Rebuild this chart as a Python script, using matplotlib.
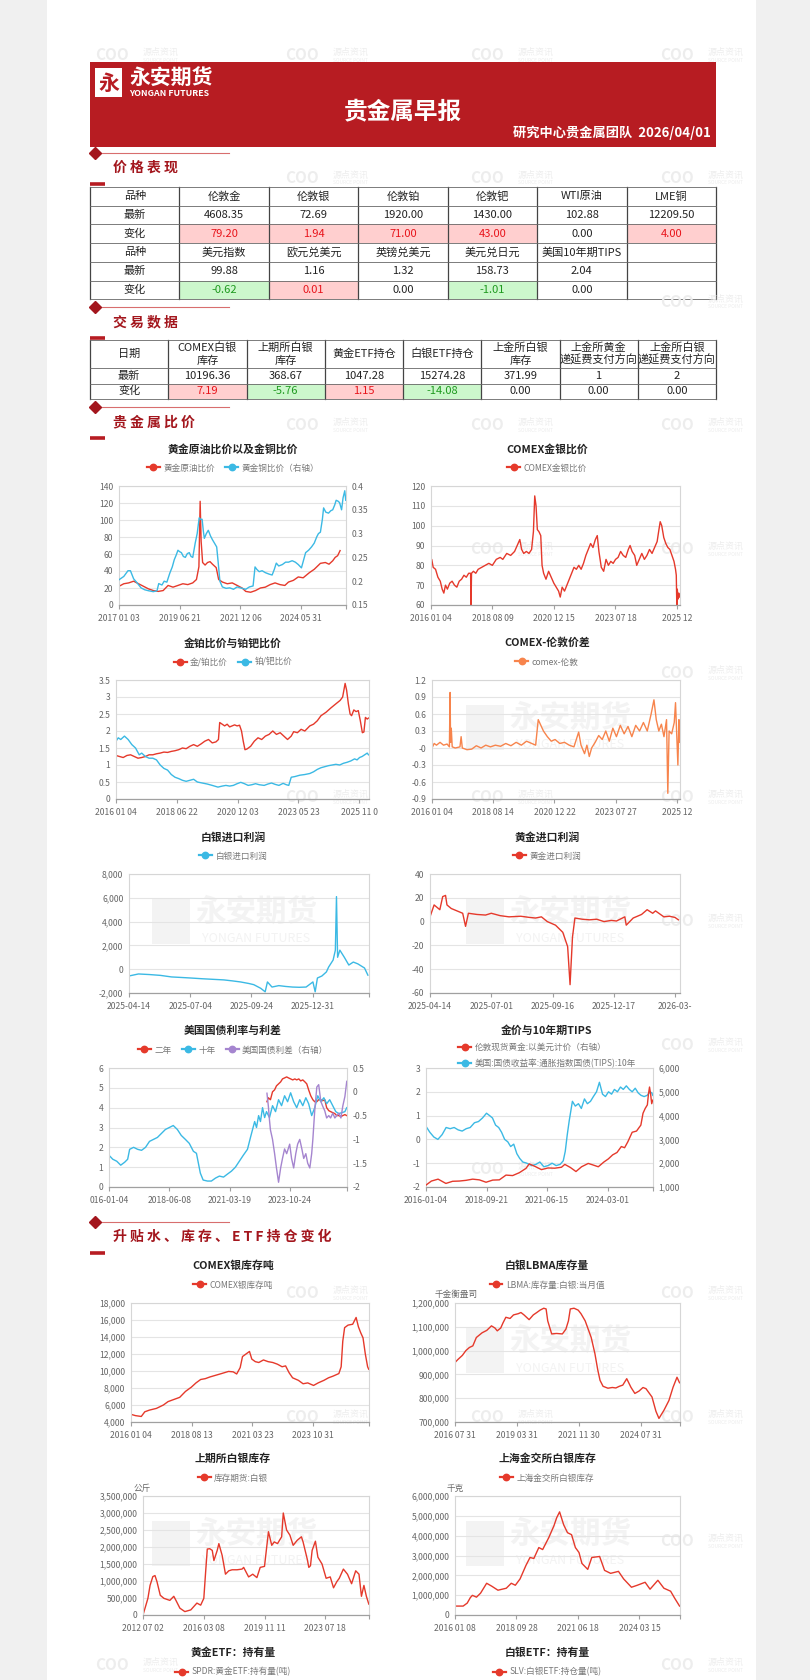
import numpy as np
import matplotlib
matplotlib.use("Agg")
import matplotlib.pyplot as plt
from matplotlib.lines import Line2D
from matplotlib.patches import Rectangle
from matplotlib.text import Text

plt.rcParams['font.family'] = ['Noto Sans CJK SC', 'DejaVu Sans']
plt.rcParams['axes.unicode_minus'] = False

W, H = 810, 1680
RED = '#e5392b'
CYAN = '#3bb9e4'
PURPLE = '#a585cf'
ORANGE = '#f7844c'
BANNER = '#b71c22'
DARKRED = '#a3161d'

# ---------------- 表格数据 ----------------
report_title = "贵金属早报"
report_sub = "研究中心贵金属团队  2026/04/01"

price_names_1 = ["伦敦金", "伦敦银", "伦敦铂", "伦敦钯", "WTI原油", "LME铜"]
price_last_1 = [4608.35, 72.69, 1920.00, 1430.00, 102.88, 12209.50]
price_chg_1 = [79.20, 1.94, 71.00, 43.00, 0.00, 4.00]
price_names_2 = ["美元指数", "欧元兑美元", "英镑兑美元", "美元兑日元", "美国10年期TIPS"]
price_last_2 = [99.88, 1.16, 1.32, 158.73, 2.04]
price_chg_2 = [-0.62, 0.01, 0.00, -1.01, 0.00]

trade_cols = ["日期", "COMEX白银\n库存", "上期所白银\n库存", "黄金ETF持仓", "白银ETF持仓",
              "上金所白银\n库存", "上金所黄金\n递延费支付方向", "上金所白银\n递延费支付方向"]
trade_last = [10196.36, 368.67, 1047.28, 15274.28, 371.99, 1, 2]
trade_chg = [7.19, -5.76, 1.15, -14.08, 0.00, 0.00, 0.00]

# ---------------- 图表数据 (年份, 数值) ----------------
gold_oil = [(2017.0, 22), (2017.2, 25), (2017.4, 26), (2017.6, 28), (2017.8, 25), (2018.0, 22),
            (2018.2, 19), (2018.4, 17), (2018.6, 16), (2018.8, 17), (2019.0, 23), (2019.2, 21),
            (2019.4, 23), (2019.6, 25), (2019.8, 24), (2020.0, 26), (2020.15, 30), (2020.25, 45),
            (2020.3, 122), (2020.34, 75), (2020.4, 50), (2020.5, 47), (2020.6, 50), (2020.7, 51),
            (2020.8, 48), (2020.95, 44), (2021.05, 30), (2021.2, 27), (2021.4, 25), (2021.6, 26),
            (2021.8, 23), (2022.0, 20), (2022.15, 16), (2022.35, 15), (2022.55, 17), (2022.75, 20),
            (2022.95, 21), (2023.15, 24), (2023.35, 26), (2023.55, 24), (2023.75, 23), (2023.9, 27),
            (2024.1, 29), (2024.3, 33), (2024.5, 32), (2024.75, 38), (2024.95, 42), (2025.2, 49),
            (2025.4, 50), (2025.55, 48), (2025.7, 52), (2025.8, 56), (2025.9, 58), (2026.0, 64)]
gold_copper = [(2017.0, 0.203), (2017.2, 0.21), (2017.37, 0.222), (2017.47, 0.222), (2017.6, 0.205),
               (2017.75, 0.196), (2017.9, 0.186), (2018.05, 0.182), (2018.2, 0.18), (2018.4, 0.178),
               (2018.55, 0.18), (2018.62, 0.195), (2018.75, 0.192), (2018.84, 0.2), (2018.95, 0.198),
               (2019.07, 0.217), (2019.17, 0.23), (2019.25, 0.245), (2019.33, 0.255), (2019.4, 0.265),
               (2019.47, 0.262), (2019.54, 0.26), (2019.62, 0.252), (2019.7, 0.25), (2019.78, 0.258),
               (2019.86, 0.26), (2019.93, 0.252), (2020.0, 0.25), (2020.1, 0.28), (2020.18, 0.3),
               (2020.26, 0.333), (2020.32, 0.33), (2020.38, 0.33), (2020.43, 0.305), (2020.47, 0.29),
               (2020.55, 0.3), (2020.63, 0.307), (2020.72, 0.295), (2020.8, 0.287), (2020.88, 0.28),
               (2020.97, 0.272), (2021.03, 0.24), (2021.1, 0.2), (2021.2, 0.188), (2021.35, 0.185),
               (2021.5, 0.186), (2021.65, 0.183), (2021.8, 0.188), (2022.0, 0.185), (2022.15, 0.183),
               (2022.3, 0.188), (2022.45, 0.19), (2022.53, 0.23), (2022.6, 0.225), (2022.7, 0.22),
               (2022.82, 0.222), (2022.95, 0.218), (2023.1, 0.215), (2023.23, 0.213), (2023.32, 0.225),
               (2023.4, 0.238), (2023.5, 0.232), (2023.65, 0.235), (2023.78, 0.24), (2023.9, 0.24),
               (2024.05, 0.243), (2024.18, 0.24), (2024.3, 0.235), (2024.43, 0.228), (2024.52, 0.245),
               (2024.6, 0.26), (2024.72, 0.265), (2024.84, 0.272), (2024.95, 0.28), (2025.05, 0.293),
               (2025.12, 0.3), (2025.2, 0.303), (2025.28, 0.33), (2025.33, 0.354), (2025.42, 0.345),
               (2025.53, 0.343), (2025.62, 0.348), (2025.7, 0.35), (2025.78, 0.36), (2025.84, 0.37),
               (2025.92, 0.368), (2025.98, 0.365), (2026.06, 0.35), (2026.12, 0.375), (2026.19, 0.39),
               (2026.23, 0.37)]
comex_gsr = [(2016.0, 79), (2016.04, 83), (2016.1, 79), (2016.2, 78), (2016.3, 74), (2016.4, 72),
             (2016.48, 68), (2016.55, 66), (2016.62, 70), (2016.7, 68), (2016.8, 71), (2016.9, 72),
             (2017.0, 70), (2017.1, 69), (2017.2, 72), (2017.3, 73), (2017.4, 75), (2017.5, 74),
             (2017.6, 76), (2017.68, 76), (2017.7, 60), (2017.72, 76), (2017.8, 77), (2017.9, 76),
             (2018.0, 78), (2018.15, 79), (2018.3, 80), (2018.45, 81), (2018.6, 80), (2018.75, 83),
             (2018.9, 84), (2019.0, 83), (2019.15, 86), (2019.3, 85), (2019.45, 87), (2019.55, 90),
             (2019.65, 93), (2019.72, 88), (2019.8, 86), (2019.9, 87), (2020.0, 86), (2020.1, 88),
             (2020.17, 97), (2020.22, 115), (2020.27, 110), (2020.32, 98), (2020.38, 97), (2020.45, 95),
             (2020.5, 80), (2020.56, 76), (2020.65, 73), (2020.75, 77), (2020.85, 74), (2020.95, 71),
             (2021.05, 69), (2021.15, 67), (2021.22, 64), (2021.3, 69), (2021.4, 67), (2021.5, 70),
             (2021.6, 73), (2021.7, 76), (2021.8, 79), (2021.9, 78), (2022.0, 80), (2022.1, 78),
             (2022.2, 81), (2022.3, 85), (2022.4, 88), (2022.5, 91), (2022.6, 89), (2022.7, 93),
             (2022.78, 95), (2022.85, 87), (2022.95, 79), (2023.05, 77), (2023.15, 83), (2023.25, 80),
             (2023.35, 82), (2023.45, 81), (2023.55, 83), (2023.65, 84), (2023.75, 87), (2023.85, 85),
             (2023.95, 84), (2024.05, 88), (2024.12, 90), (2024.2, 87), (2024.3, 85), (2024.38, 80),
             (2024.48, 83), (2024.58, 86), (2024.68, 83), (2024.78, 85), (2024.88, 88), (2024.98, 86),
             (2025.08, 89), (2025.18, 92), (2025.25, 98), (2025.3, 102), (2025.36, 100), (2025.44, 94),
             (2025.52, 91), (2025.6, 89), (2025.68, 88), (2025.76, 85), (2025.84, 82), (2025.9, 78),
             (2025.93, 75), (2025.95, 60), (2025.97, 68), (2026.0, 63), (2026.03, 66), (2026.06, 64)]
gold_plat = [(2016.0, 1.28), (2016.15, 1.25), (2016.3, 1.22), (2016.45, 1.28), (2016.6, 1.3),
             (2016.75, 1.25), (2016.9, 1.2), (2017.05, 1.22), (2017.2, 1.25), (2017.35, 1.3),
             (2017.5, 1.3), (2017.65, 1.33), (2017.8, 1.35), (2017.95, 1.38), (2018.1, 1.37),
             (2018.25, 1.4), (2018.4, 1.42), (2018.55, 1.45), (2018.7, 1.5), (2018.85, 1.48),
             (2019.0, 1.55), (2019.15, 1.6), (2019.3, 1.55), (2019.45, 1.62), (2019.6, 1.7),
             (2019.75, 1.75), (2019.9, 1.65), (2020.05, 1.68), (2020.15, 1.75), (2020.2, 2.25),
             (2020.3, 2.2), (2020.4, 2.15), (2020.5, 2.2), (2020.6, 2.12), (2020.7, 2.15),
             (2020.8, 2.18), (2020.9, 2.15), (2021.0, 2.17), (2021.08, 2.0), (2021.15, 1.7),
             (2021.22, 1.45), (2021.3, 1.47), (2021.45, 1.55), (2021.6, 1.7), (2021.75, 1.8),
             (2021.9, 1.75), (2022.05, 1.85), (2022.2, 1.9), (2022.35, 2.0), (2022.5, 1.9),
             (2022.65, 1.95), (2022.8, 1.85), (2022.95, 1.75), (2023.1, 1.85), (2023.2, 1.98),
             (2023.35, 1.95), (2023.5, 2.05), (2023.65, 2.0), (2023.85, 2.15), (2024.0, 2.2),
             (2024.15, 2.3), (2024.3, 2.45), (2024.5, 2.55), (2024.7, 2.68), (2024.9, 2.8),
             (2025.07, 2.9), (2025.17, 3.0), (2025.27, 3.4), (2025.33, 3.2), (2025.4, 2.8),
             (2025.47, 2.5), (2025.53, 2.45), (2025.62, 2.62), (2025.71, 2.57), (2025.8, 2.6),
             (2025.88, 2.3), (2025.96, 1.95), (2026.02, 1.97), (2026.08, 2.4), (2026.15, 2.35),
             (2026.2, 2.38)]
plat_pall = [(2016.0, 1.7), (2016.1, 1.8), (2016.2, 1.75), (2016.35, 1.85), (2016.5, 1.75),
             (2016.65, 1.6), (2016.8, 1.5), (2016.95, 1.3), (2017.05, 1.35), (2017.2, 1.25),
             (2017.35, 1.2), (2017.5, 1.2), (2017.65, 1.15), (2017.8, 1.0), (2017.95, 0.9),
             (2018.1, 0.85), (2018.25, 0.72), (2018.4, 0.64), (2018.55, 0.6), (2018.7, 0.55),
             (2018.85, 0.52), (2019.0, 0.55), (2019.15, 0.58), (2019.3, 0.5), (2019.5, 0.47),
             (2019.7, 0.44), (2019.9, 0.4), (2020.13, 0.35), (2020.3, 0.38), (2020.45, 0.4),
             (2020.6, 0.38), (2020.75, 0.4), (2020.9, 0.45), (2021.05, 0.49), (2021.2, 0.45),
             (2021.35, 0.4), (2021.5, 0.42), (2021.65, 0.45), (2021.8, 0.42), (2022.0, 0.4),
             (2022.15, 0.44), (2022.3, 0.47), (2022.45, 0.43), (2022.6, 0.4), (2022.77, 0.46),
             (2022.9, 0.42), (2023.0, 0.4), (2023.1, 0.64), (2023.25, 0.66), (2023.45, 0.7),
             (2023.65, 0.72), (2023.85, 0.75), (2024.0, 0.8), (2024.15, 0.87), (2024.3, 0.92),
             (2024.45, 0.95), (2024.6, 0.98), (2024.75, 1.0), (2024.9, 1.02), (2025.05, 1.0),
             (2025.2, 1.05), (2025.35, 1.08), (2025.5, 1.12), (2025.65, 1.18), (2025.75, 1.15),
             (2025.85, 1.22), (2025.95, 1.25), (2026.05, 1.3), (2026.15, 1.35), (2026.2, 1.3)]
comex_ldn = [(2016.0, 0.0), (2016.1, 0.08), (2016.2, 0.05), (2016.35, 0.1), (2016.5, 0.05),
             (2016.65, 0.07), (2016.75, 0.02), (2016.78, 0.98), (2016.8, 0.1), (2016.83, 0.35),
             (2016.87, 0.02), (2017.0, 0.0), (2017.2, 0.02), (2017.25, 0.2), (2017.3, 0.0),
             (2017.5, -0.03), (2017.7, -0.02), (2017.9, 0.04), (2018.1, 0.0), (2018.3, 0.05),
             (2018.5, 0.02), (2018.7, 0.05), (2018.9, 0.03), (2019.1, 0.08), (2019.3, 0.04),
             (2019.5, 0.1), (2019.7, 0.05), (2019.9, 0.12), (2020.1, 0.08), (2020.25, 0.05),
             (2020.35, 0.5), (2020.45, 0.4), (2020.55, 0.3), (2020.7, 0.2), (2020.85, 0.12),
             (2021.0, 0.15), (2021.2, 0.08), (2021.4, 0.1), (2021.6, 0.05), (2021.8, 0.02),
             (2022.0, 0.28), (2022.1, 0.05), (2022.25, -0.1), (2022.35, 0.05), (2022.45, -0.15),
             (2022.55, 0.0), (2022.7, 0.1), (2022.85, 0.22), (2023.0, 0.15), (2023.15, 0.3),
             (2023.3, 0.12), (2023.45, 0.35), (2023.6, 0.2), (2023.75, 0.4), (2023.9, 0.25),
             (2024.05, 0.38), (2024.2, 0.2), (2024.35, 0.4), (2024.5, 0.3), (2024.65, 0.45),
             (2024.8, 0.3), (2024.95, 0.6), (2025.06, 0.85), (2025.15, 0.5), (2025.25, 0.3),
             (2025.35, 0.42), (2025.45, 0.2), (2025.55, 0.5), (2025.6, -0.8), (2025.65, 0.3),
             (2025.75, 0.25), (2025.85, 0.45), (2025.9, 0.8), (2025.95, 0.2), (2026.0, -0.3),
             (2026.05, 0.5), (2026.08, 0.1)]
silver_profit = [(2025.28, -570), (2025.32, -400), (2025.36, -450), (2025.4, -520), (2025.44, -650),
                 (2025.48, -700), (2025.51, -740), (2025.55, -800), (2025.59, -850), (2025.63, -900),
                 (2025.66, -980), (2025.69, -1070), (2025.72, -1200), (2025.74, -1300), (2025.77, -1600),
                 (2025.79, -1900), (2025.8, -1070), (2025.82, -1500), (2025.85, -1380), (2025.88, -1450),
                 (2025.91, -1500), (2025.94, -1520), (2025.97, -1500), (2026.0, -1070), (2026.01, -1900),
                 (2026.02, -740), (2026.04, -570), (2026.06, -230), (2026.07, 180), (2026.09, 770),
                 (2026.1, 1600), (2026.105, 6100), (2026.11, 1000), (2026.12, 1600), (2026.14, 1000),
                 (2026.16, 350), (2026.18, 600), (2026.2, 450), (2026.23, 100), (2026.245, -500)]
gold_profit = [(2025.28, 4), (2025.3, 14), (2025.32, 10), (2025.33, 21), (2025.34, 22), (2025.345, 14),
               (2025.36, 11), (2025.38, 9), (2025.4, 7), (2025.41, -4), (2025.42, 7), (2025.45, 6),
               (2025.48, 5.5), (2025.5, 7), (2025.53, 5), (2025.56, 4), (2025.6, 4.5), (2025.63, 3.5),
               (2025.65, 3), (2025.67, 4), (2025.69, 0), (2025.72, -3), (2025.75, -9), (2025.77, -21),
               (2025.78, -53), (2025.79, -13), (2025.8, 3), (2025.83, 2), (2025.86, 1.5), (2025.89, 2),
               (2025.92, 0), (2025.95, 1), (2025.97, 0.5), (2026.0, 4), (2026.005, -3), (2026.03, 3),
               (2026.06, 6), (2026.08, 10), (2026.1, 7), (2026.11, 9), (2026.14, 4), (2026.16, 4.5),
               (2026.18, 3.5), (2026.2, 1.5)]
us_2y = [(2022.83, 4.3), (2022.89, 4.5), (2022.98, 4.4), (2023.07, 4.8), (2023.16, 4.9), (2023.24, 5.1),
         (2023.33, 5.2), (2023.42, 5.3), (2023.5, 5.45), (2023.59, 5.5), (2023.68, 5.55), (2023.76, 5.5),
         (2023.85, 5.45), (2023.94, 5.4), (2024.03, 5.45), (2024.11, 5.4), (2024.2, 5.45), (2024.28, 5.35),
         (2024.37, 5.4), (2024.46, 5.3), (2024.54, 5.2), (2024.62, 4.9), (2024.71, 4.6), (2024.8, 4.4),
         (2024.88, 4.3), (2024.97, 4.3), (2025.05, 4.4), (2025.14, 4.4), (2025.22, 4.35), (2025.31, 4.4),
         (2025.39, 4.0), (2025.48, 3.85), (2025.56, 3.8), (2025.65, 3.75), (2025.74, 3.7), (2025.82, 3.6),
         (2025.91, 3.6), (2026.0, 3.55), (2026.08, 3.6), (2026.17, 3.65), (2026.25, 3.6)]
us_10y = [(2016.0, 1.6), (2016.16, 1.4), (2016.32, 1.3), (2016.48, 1.1), (2016.64, 1.25), (2016.76, 1.4),
          (2016.84, 1.9), (2017.0, 2.0), (2017.16, 1.9), (2017.32, 1.85), (2017.48, 2.0), (2017.64, 2.3),
          (2017.8, 2.4), (2017.96, 2.5), (2018.12, 2.7), (2018.28, 2.9), (2018.44, 3.0), (2018.62, 3.1),
          (2018.81, 2.9), (2018.99, 2.6), (2019.18, 2.4), (2019.36, 2.2), (2019.55, 1.8), (2019.69, 1.7),
          (2019.78, 1.2), (2019.87, 0.7), (2020.0, 0.35), (2020.2, 0.3), (2020.38, 0.3), (2020.57, 0.45),
          (2020.75, 0.55), (2020.94, 0.5), (2021.12, 0.65), (2021.3, 0.8), (2021.47, 1.0), (2021.64, 1.3),
          (2021.81, 1.6), (2021.99, 1.9), (2022.12, 2.5), (2022.21, 2.9), (2022.3, 3.3), (2022.38, 3.0),
          (2022.47, 3.6), (2022.55, 3.3), (2022.64, 4.0), (2022.73, 3.5), (2022.81, 3.8), (2022.94, 3.5),
          (2023.07, 4.1), (2023.2, 3.8), (2023.33, 4.4), (2023.46, 4.1), (2023.59, 4.6), (2023.72, 4.3),
          (2023.85, 4.75), (2023.98, 4.3), (2024.11, 4.0), (2024.24, 4.4), (2024.37, 4.1), (2024.5, 4.5),
          (2024.62, 4.2), (2024.75, 3.6), (2024.88, 4.0), (2025.01, 4.6), (2025.14, 4.3), (2025.27, 4.5),
          (2025.39, 4.2), (2025.52, 4.4), (2025.65, 4.1), (2025.78, 3.8), (2025.91, 3.7), (2026.04, 3.75),
          (2026.17, 3.8), (2026.25, 4.0)]
us_spread = [(2022.83, -0.03), (2022.89, -0.3), (2022.94, -0.6), (2022.98, -0.8), (2023.07, -1.0),
             (2023.16, -1.3), (2023.24, -1.6), (2023.33, -1.9), (2023.42, -1.6), (2023.5, -1.4),
             (2023.59, -1.2), (2023.68, -1.3), (2023.81, -1.1), (2023.89, -1.4), (2023.98, -1.6),
             (2024.07, -1.3), (2024.15, -1.1), (2024.24, -1.0), (2024.33, -1.2), (2024.41, -1.4),
             (2024.5, -1.3), (2024.58, -1.5), (2024.67, -1.6), (2024.75, -1.3), (2024.8, -1.0),
             (2024.88, -0.4), (2024.97, 0.1), (2025.05, 0.15), (2025.14, -0.2), (2025.22, -0.3),
             (2025.31, -0.4), (2025.39, -0.55), (2025.48, -0.5), (2025.56, -0.55), (2025.65, -0.45),
             (2025.74, -0.55), (2025.82, -0.5), (2025.91, -0.45), (2026.0, -0.55), (2026.08, -0.3),
             (2026.17, -0.1), (2026.25, 0.22)]
gold_spot = [(2016.0, 1080), (2016.25, 1250), (2016.55, 1330), (2016.9, 1150), (2017.2, 1240),
             (2017.5, 1250), (2017.8, 1280), (2018.1, 1330), (2018.4, 1300), (2018.7, 1200),
             (2019.0, 1290), (2019.3, 1300), (2019.6, 1500), (2019.9, 1480), (2020.2, 1600),
             (2020.5, 1780), (2020.65, 1970), (2020.9, 1870), (2021.2, 1730), (2021.5, 1800),
             (2021.8, 1790), (2022.1, 1830), (2022.25, 1950), (2022.5, 1820), (2022.75, 1650),
             (2023.0, 1850), (2023.3, 1990), (2023.5, 1930), (2023.75, 1850), (2024.0, 2050),
             (2024.2, 2180), (2024.4, 2350), (2024.6, 2450), (2024.8, 2700), (2024.95, 2650),
             (2025.1, 2900), (2025.3, 3300), (2025.5, 3350), (2025.7, 3600), (2025.8, 4100),
             (2025.9, 4300), (2026.0, 4450), (2026.05, 4900), (2026.1, 5200), (2026.15, 4900),
             (2026.2, 4500), (2026.25, 4650)]
tips_10y = [(2016.0, 0.55), (2016.18, 0.3), (2016.36, 0.1), (2016.54, 0.0), (2016.73, 0.2), (2016.91, 0.5),
            (2017.09, 0.45), (2017.27, 0.5), (2017.45, 0.4), (2017.63, 0.35), (2017.81, 0.45), (2017.99, 0.5),
            (2018.18, 0.7), (2018.36, 0.75), (2018.54, 0.9), (2018.72, 1.1), (2018.86, 1.0), (2018.99, 0.9),
            (2019.13, 0.6), (2019.27, 0.5), (2019.4, 0.3), (2019.54, 0.0), (2019.68, -0.1), (2019.81, -0.3),
            (2019.95, -0.2), (2020.09, -0.6), (2020.22, -0.8), (2020.36, -0.95), (2020.54, -1.0),
            (2020.76, -1.1), (2020.95, -1.05), (2021.13, -0.95), (2021.31, -1.15), (2021.5, -1.1),
            (2021.68, -1.0), (2021.86, -1.1), (2022.04, -1.05), (2022.18, -0.9), (2022.27, -0.5),
            (2022.36, 0.2), (2022.45, 0.8), (2022.59, 1.6), (2022.72, 1.4), (2022.86, 1.5), (2022.99, 1.3),
            (2023.13, 1.7), (2023.26, 1.5), (2023.4, 1.6), (2023.53, 1.8), (2023.67, 2.0), (2023.8, 2.4),
            (2023.94, 1.9), (2024.07, 1.8), (2024.21, 2.0), (2024.35, 1.9), (2024.48, 2.1), (2024.62, 2.0),
            (2024.76, 2.2), (2024.89, 2.1), (2025.03, 2.25), (2025.17, 2.1), (2025.3, 2.0), (2025.44, 2.15),
            (2025.58, 1.95), (2025.71, 1.85), (2025.85, 1.8), (2025.99, 1.85), (2026.12, 2.0),
            (2026.21, 1.95), (2026.25, 1.85)]
comex_ag_stock = [(2016.0, 4900), (2016.2, 4750), (2016.45, 4650), (2016.6, 5200), (2016.8, 5400),
                  (2017.1, 5600), (2017.4, 6000), (2017.6, 6400), (2017.8, 6600), (2018.1, 6900),
                  (2018.35, 7600), (2018.6, 8100), (2018.8, 8600), (2019.0, 9000), (2019.2, 9100),
                  (2019.4, 9300), (2019.65, 9500), (2019.9, 9700), (2020.2, 9950), (2020.4, 9900),
                  (2020.55, 9650), (2020.7, 10400), (2020.8, 11700), (2020.95, 12000), (2021.1, 12300),
                  (2021.2, 11400), (2021.35, 11100), (2021.5, 11000), (2021.7, 11300), (2021.9, 11100),
                  (2022.1, 11000), (2022.3, 10800), (2022.5, 10500), (2022.65, 10600), (2022.8, 9800),
                  (2022.95, 9200), (2023.2, 8900), (2023.4, 8500), (2023.6, 8600), (2023.85, 8300),
                  (2024.05, 8600), (2024.3, 8900), (2024.5, 9200), (2024.7, 9400), (2024.95, 9700),
                  (2025.05, 10500), (2025.12, 13500), (2025.2, 15100), (2025.35, 15400), (2025.55, 15500),
                  (2025.7, 16300), (2025.8, 15200), (2025.9, 14500), (2026.0, 13900), (2026.1, 12000),
                  (2026.2, 10500), (2026.25, 10200)]
lbma_ag = [(2016.58, 950000), (2016.7, 962000), (2016.9, 980000), (2017.05, 1000000), (2017.2, 1013000),
           (2017.35, 1020000), (2017.5, 1055000), (2017.75, 1075000), (2017.95, 1085000), (2018.15, 1104000),
           (2018.3, 1095000), (2018.4, 1083000), (2018.55, 1095000), (2018.65, 1117000), (2018.77, 1140000),
           (2018.95, 1135000), (2019.1, 1150000), (2019.3, 1155000), (2019.42, 1160000), (2019.55, 1150000),
           (2019.77, 1130000), (2019.95, 1150000), (2020.1, 1160000), (2020.24, 1170000), (2020.4, 1178000),
           (2020.5, 1175000), (2020.57, 1125000), (2020.74, 1070000), (2020.95, 1072000), (2021.2, 1070000),
           (2021.35, 1090000), (2021.46, 1125000), (2021.54, 1175000), (2021.7, 1178000), (2021.88, 1170000),
           (2022.0, 1155000), (2022.18, 1125000), (2022.44, 1055000), (2022.6, 987000), (2022.72, 920000),
           (2022.82, 875000), (2022.95, 850000), (2023.16, 842000), (2023.35, 845000), (2023.5, 843000),
           (2023.65, 850000), (2023.8, 855000), (2023.97, 882000), (2024.15, 846000), (2024.32, 820000),
           (2024.5, 830000), (2024.67, 845000), (2024.8, 840000), (2025.06, 805000), (2025.23, 745000),
           (2025.36, 715000), (2025.58, 750000), (2025.79, 790000), (2025.97, 846000), (2026.14, 888000),
           (2026.25, 865000)]
shfe_ag = [(2012.5, 0), (2012.68, 290000), (2012.8, 490000), (2012.93, 870000), (2013.1, 1130000),
           (2013.23, 1160000), (2013.35, 980000), (2013.55, 580000), (2013.77, 490000), (2014.13, 430000),
           (2014.37, 550000), (2014.5, 430000), (2014.74, 200000), (2015.04, 100000), (2015.4, 150000),
           (2015.77, 350000), (2016.0, 290000), (2016.19, 490000), (2016.3, 1270000), (2016.4, 1940000),
           (2016.55, 1950000), (2016.7, 1900000), (2016.8, 1600000), (2017.0, 1900000), (2017.1, 2100000),
           (2017.3, 1750000), (2017.5, 1200000), (2017.7, 1300000), (2017.9, 1330000), (2018.2, 1330000),
           (2018.5, 1350000), (2018.6, 1400000), (2018.9, 1120000), (2019.15, 1200000), (2019.4, 1100000),
           (2019.6, 1400000), (2019.86, 1430000), (2020.1, 2450000), (2020.3, 2050000), (2020.45, 2150000),
           (2020.65, 2100000), (2020.9, 2300000), (2021.0, 3000000), (2021.2, 2500000), (2021.4, 2350000),
           (2021.6, 2050000), (2021.85, 2200000), (2022.1, 2300000), (2022.2, 2150000), (2022.45, 1650000),
           (2022.55, 1400000), (2022.65, 1450000), (2022.75, 1900000), (2022.95, 2170000), (2023.1, 1700000),
           (2023.35, 1500000), (2023.6, 1080000), (2023.85, 1120000), (2024.05, 800000), (2024.25, 980000),
           (2024.4, 1080000), (2024.65, 1350000), (2024.9, 1200000), (2025.15, 920000), (2025.4, 1300000),
           (2025.6, 1200000), (2025.75, 550000), (2025.9, 870000), (2026.05, 550000), (2026.2, 320000)]
sge_ag = [(2016.02, 450000), (2016.38, 450000), (2016.56, 600000), (2016.7, 880000), (2016.79, 990000),
          (2016.97, 900000), (2017.15, 1100000), (2017.42, 1600000), (2017.65, 1450000), (2017.92, 1250000),
          (2018.29, 1350000), (2018.51, 1600000), (2018.69, 1500000), (2018.9, 1820000), (2019.16, 2500000),
          (2019.34, 2900000), (2019.51, 2850000), (2019.73, 3400000), (2019.9, 3300000), (2020.17, 3900000),
          (2020.4, 4500000), (2020.52, 4900000), (2020.65, 5200000), (2020.83, 4550000), (2021.0, 4150000),
          (2021.18, 4050000), (2021.35, 3400000), (2021.51, 3150000), (2021.64, 2600000), (2021.9, 2300000),
          (2022.08, 2900000), (2022.43, 2950000), (2022.65, 2250000), (2022.92, 2100000), (2023.27, 2200000),
          (2023.5, 1820000), (2023.85, 1400000), (2024.11, 1500000), (2024.46, 1650000), (2024.68, 1300000),
          (2025.03, 1750000), (2025.3, 1350000), (2025.6, 1200000), (2025.78, 850000), (2026.0, 450000)]

# ---------------- 画布 ----------------
fig = plt.figure(figsize=(W / 100, H / 100), dpi=100, facecolor='#f0f0f0')
bg = fig.add_axes([0, 0, 1, 1])
bg.set_xlim(0, W)
bg.set_ylim(H, 0)
bg.axis('off')
bg.add_patch(Rectangle((47, 0), 709, H, facecolor='white', edgecolor='none'))


def yr(s):
    y, m, d = [int(v) for v in s.split('-')]
    return y + (m - 1) / 12 + (d - 1) / 365


def fmt(v):
    v = round(v, 4)
    if abs(v) >= 1000:
        return f"{v:,.0f}"
    return f"{v:g}"


def steps(a, b, s):
    return [round(a + i * s, 4) for i in range(int(round((b - a) / s)) + 1)]


# 水印 (与其它文字相撞的稍后去掉)
wm_groups = []
for wy in [55, 178, 302, 425, 549, 673, 797, 921, 1045, 1169, 1293, 1417, 1541, 1665]:
    for wx in [95, 285, 470, 660]:
        wm_groups.append([
            bg.text(wx, wy, "COO", fontsize=11, color='#ededed', fontweight='bold', ha='left', va='center'),
            bg.text(wx + 48, wy - 3, "源点资讯", fontsize=6.5, color='#ededed', ha='left', va='center'),
            bg.text(wx + 48, wy + 5, "SOURCE POINT", fontsize=3.5, color='#ededed', ha='left', va='center'),
        ])


def big_wm(cx, T):
    top = T + 62
    bg.add_patch(Rectangle((cx - 81, top), 38, 45, facecolor='#f3f3f3', edgecolor='none'))
    bg.text(cx + 23, top + 13, "永安期货", fontsize=22, color='#f3f3f3', fontweight='bold', ha='center', va='center')
    bg.text(cx + 23, top + 40, "YONGAN FUTURES", fontsize=9, color='#f3f3f3', ha='center', va='center')


# ---------------- 标题横幅 ----------------
bg.add_patch(Rectangle((90, 62), 626, 85, facecolor=BANNER, edgecolor='none'))
bg.add_patch(Rectangle((95, 68), 27, 29, facecolor='white', edgecolor='none'))
bg.text(108.5, 83, "永", fontsize=15, color=BANNER, fontweight='bold', ha='center', va='center')
bg.text(129, 78, "永安期货", fontsize=15, color='white', fontweight='bold', ha='left', va='center')
bg.text(129, 93.5, "YONGAN FUTURES", fontsize=6.4, color='white', fontweight='bold', ha='left', va='center')
bg.text(403, 111, report_title, fontsize=17, color='white', fontweight='bold', ha='center', va='center')
bg.text(711, 133, report_sub, fontsize=9.5, color='white', fontweight='bold', ha='right', va='center')


def section(yd, label, x_end=229):
    bg.plot([95, x_end], [yd, yd], color='#cf4a4a', lw=0.8, alpha=0.8)
    bg.plot([95], [yd], marker='D', markersize=6.5, color=DARKRED)
    bg.text(113, yd + 15, ' '.join(label), fontsize=10, fontweight='bold', color=DARKRED,
            ha='left', va='center')
    bg.plot([90, 105], [yd + 31, yd + 31], color=BANNER, lw=2.6, solid_capstyle='butt')


def chg_style(v):
    if v > 0:
        return '#ffcfcf', '#e8141b'
    if v < 0:
        return '#ccf7cc', '#1f9a1f'
    return None, '#222222'


def cell(x0, y0, x1, y1, text, face=None, color='#222222', fs=8):
    if face:
        bg.add_patch(Rectangle((x0, y0), x1 - x0, y1 - y0, facecolor=face, edgecolor='none'))
    bg.text((x0 + x1) / 2, (y0 + y1) / 2, text, ha='center', va='center', fontsize=fs,
            color=color, linespacing=1.25)


def grid_lines(xs, ys):
    for x in xs:
        bg.plot([x, x], [ys[0], ys[-1]], color='#444444', lw=0.9)
    for y in ys:
        bg.plot([xs[0], xs[-1]], [y, y], color='#666666', lw=0.6)


# ---------------- 价格表现 ----------------
section(153, "价格表现")
tx1 = [90 + 626 / 7 * i for i in range(8)]
ty1 = [187 + 18.7 * j for j in range(7)]
rows = [
    ["品种"] + price_names_1,
    ["最新"] + [f"{v:.2f}" for v in price_last_1],
    ["变化"] + price_chg_1,
    ["品种"] + price_names_2 + [""],
    ["最新"] + [f"{v:.2f}" for v in price_last_2] + [""],
    ["变化"] + price_chg_2 + [""],
]
for j, row in enumerate(rows):
    for i, val in enumerate(row):
        if isinstance(val, float):
            face, color = chg_style(val)
            cell(tx1[i], ty1[j], tx1[i + 1], ty1[j + 1], f"{val:.2f}", face, color)
        else:
            cell(tx1[i], ty1[j], tx1[i + 1], ty1[j + 1], val)
grid_lines(tx1, ty1)

# ---------------- 交易数据 ----------------
section(307, "交易数据")
tx2 = [90 + 626 / 8 * i for i in range(9)]
ty2 = [340, 368, 383.5, 399]
for i, name in enumerate(trade_cols):
    cell(tx2[i], ty2[0], tx2[i + 1], ty2[1], name)
cell(tx2[0], ty2[1], tx2[1], ty2[2], "最新")
cell(tx2[0], ty2[2], tx2[1], ty2[3], "变化")
for i, (v, c) in enumerate(zip(trade_last, trade_chg)):
    cell(tx2[i + 1], ty2[1], tx2[i + 2], ty2[2], f"{v:.2f}" if isinstance(v, float) else str(v))
    face, color = chg_style(c)
    cell(tx2[i + 1], ty2[2], tx2[i + 2], ty2[3], f"{c:.2f}", face, color)
grid_lines(tx2, ty2)

section(407, "贵金属比价")
section(1222, "升贴水、库存、ETF持仓变化", x_end=229)


# ---------------- 图表 ----------------
def title_legend(cx, T, title, items, stacked=False):
    bg.text(cx, T, title, ha='center', va='center', fontsize=7.8, fontweight='bold', color='#222222')
    handles = [Line2D([], [], color=c, lw=1.6, marker='o', markersize=4.6) for _, c in items]
    names = [n for n, _ in items]
    if stacked:
        fig.legend(handles, names, loc='upper center', bbox_to_anchor=(cx / W, 1 - (T + 12) / H),
                   ncol=1, frameon=False, fontsize=6.2, handlelength=1.5, handletextpad=0.4,
                   labelspacing=0.75, labelcolor='#777777', borderaxespad=0, borderpad=0)
    else:
        fig.legend(handles, names, loc='center', bbox_to_anchor=(cx / W, 1 - (T + 19) / H),
                   ncol=len(names), frameon=False, fontsize=6.2, handlelength=1.5, handletextpad=0.4,
                   columnspacing=1.2, labelcolor='#777777', borderaxespad=0, borderpad=0)


def chart(cx, T, x0, x1, title, series, xticks, xlabels, x_end, end_frac, ylim, yticks,
          ylim2=None, yticks2=None, stacked=False):
    y0, y1 = T + 37, T + 156
    ax = fig.add_axes([x0 / W, 1 - y1 / H, (x1 - x0) / W, (y1 - y0) / H])
    ax.set_facecolor('none')
    ax2 = ax.twinx() if ylim2 else None
    tx = [yr(t) for t in xticks]
    anchors = tx + [x_end]
    pos = list(range(len(tx))) + [len(tx) - 1 + end_frac]
    ax.set_xscale('function', functions=(lambda v, a=anchors, p=pos: np.interp(v, a, p),
                                          lambda v, a=anchors, p=pos: np.interp(v, p, a)))
    for name, data, color, side in series:
        xs, ys = zip(*data)
        target = ax2 if side == 'r' else ax
        target.plot(xs, ys, color=color, lw=1.0, solid_joinstyle='round')
    ax.set_xlim(anchors[0], anchors[-1])
    if end_frac > 0.2:
        ax.set_xticks(tx + [x_end])
        ax.set_xticklabels(xlabels + [''])
    else:
        ax.set_xticks(tx)
        ax.set_xticklabels(xlabels)
    ax.set_ylim(*ylim)
    ax.set_yticks(yticks)
    ax.set_yticklabels([fmt(v) for v in yticks])
    ax.grid(axis='y', color='#e4e4e4', lw=0.8)
    ax.set_axisbelow(True)
    for s in ['left', 'top', 'right']:
        ax.spines[s].set_color('#d6d6d6')
        ax.spines[s].set_linewidth(0.8)
    ax.spines['bottom'].set_color('#a0a0a0')
    ax.spines['bottom'].set_linewidth(0.9)
    ax.tick_params(axis='y', length=0, labelsize=6.2, labelcolor='#666666', pad=4)
    ax.tick_params(axis='x', length=3.2, width=0.8, color='#a0a0a0', labelsize=6.2,
                   labelcolor='#666666', pad=3)
    if ax2 is not None:
        ax2.set_ylim(*ylim2)
        ax2.set_yticks(yticks2)
        ax2.set_yticklabels([fmt(v) for v in yticks2])
        for s in ax2.spines.values():
            s.set_visible(False)
        ax2.tick_params(axis='y', length=0, labelsize=6.2, labelcolor='#666666', pad=4)
        ax2.set_xlim(anchors[0], anchors[-1])
    title_legend(cx, T, title, [(n, c) for n, _, c, _ in series], stacked)
    return ax


CXL, CXR = 233, 547

for cx, T in [(CXR, 643), (CXL, 837), (CXR, 837), (CXR, 1266), (CXL, 1459), (CXR, 1459)]:
    big_wm(cx, T)

chart(CXL, 449, 119, 346, "黄金原油比价以及金铜比价",
      [("黄金原油比价", gold_oil, RED, 'l'), ("黄金铜比价（右轴）", gold_copper, CYAN, 'r')],
      ["2017-01-03", "2019-06-21", "2021-12-06", "2024-05-31"],
      ["2017 01 03", "2019 06 21", "2021 12 06", "2024 05 31"], 2026.24, 0.74,
      (0, 140), steps(0, 140, 20), (0.15, 0.4), steps(0.15, 0.4, 0.05))
chart(CXR, 449, 431, 680, "COMEX金银比价",
      [("COMEX金银比价", comex_gsr, RED, 'l')],
      ["2016-01-04", "2018-08-09", "2020-12-15", "2023-07-18", "2025-12-15"],
      ["2016 01 04", "2018 08 09", "2020 12 15", "2023 07 18", "2025 12"], 2026.08, 0.05,
      (60, 120), steps(60, 120, 10))
chart(CXL, 643, 116, 369, "金铂比价与铂钯比价",
      [("金/铂比价", gold_plat, RED, 'l'), ("铂/钯比价", plat_pall, CYAN, 'l')],
      ["2016-01-04", "2018-06-22", "2020-12-03", "2023-05-23", "2025-11-03"],
      ["2016 01 04", "2018 06 22", "2020 12 03", "2023 05 23", "2025 11 0"], 2026.22, 0.16,
      (0, 3.5), steps(0, 3.5, 0.5))
chart(CXR, 643, 432, 680, "COMEX-伦敦价差",
      [("comex-伦敦", comex_ldn, ORANGE, 'l')],
      ["2016-01-04", "2018-08-14", "2020-12-22", "2023-07-27", "2025-12-15"],
      ["2016 01 04", "2018 08 14", "2020 12 22", "2023 07 27", "2025 12"], 2026.1, 0.05,
      (-0.9, 1.2), steps(-0.9, 1.2, 0.3))
chart(CXL, 837, 129, 369, "白银进口利润",
      [("白银进口利润", silver_profit, CYAN, 'l')],
      ["2025-04-14", "2025-07-04", "2025-09-24", "2025-12-31"],
      ["2025-04-14", "2025-07-04", "2025-09-24", "2025-12-31"], 2026.25, 0.92,
      (-2000, 8000), steps(-2000, 8000, 2000))
chart(CXR, 837, 430, 680, "黄金进口利润",
      [("黄金进口利润", gold_profit, RED, 'l')],
      ["2025-04-14", "2025-07-01", "2025-09-16", "2025-12-17", "2026-03-06"],
      ["2025-04-14", "2025-07-01", "2025-09-16", "2025-12-17", "2026-03-"], 2026.21, 0.08,
      (-60, 40), steps(-60, 40, 20))
chart(CXL, 1031, 109, 347, "美国国债利率与利差",
      [("二年", us_2y, RED, 'l'), ("十年", us_10y, CYAN, 'l'), ("美国国债利差（右轴）", us_spread, PURPLE, 'r')],
      ["2016-01-04", "2018-06-08", "2021-03-19", "2023-10-24"],
      ["016-01-04", "2018-06-08", "2021-03-19", "2023-10-24"], 2026.26, 0.95,
      (0, 6), steps(0, 6, 1), (-2, 0.5), steps(-2, 0.5, 0.5))
chart(CXR, 1031, 426, 653, "金价与10年期TIPS",
      [("伦敦现货黄金:以美元计价（右轴）", gold_spot, RED, 'r'),
       ("美国:国债收益率:通胀指数国债(TIPS):10年", tips_10y, CYAN, 'l')],
      ["2016-01-04", "2018-09-21", "2021-06-15", "2024-03-01"],
      ["2016-01-04", "2018-09-21", "2021-06-15", "2024-03-01"], 2026.26, 0.75,
      (-2, 3), steps(-2, 3, 1), (1000, 6000), steps(1000, 6000, 1000), stacked=True)
chart(CXL, 1266, 131, 369, "COMEX银库存吨",
      [("COMEX银库存吨", comex_ag_stock, RED, 'l')],
      ["2016-01-04", "2018-08-13", "2021-03-23", "2023-10-31"],
      ["2016 01 04", "2018 08 13", "2021 03 23", "2023 10 31"], 2026.26, 0.92,
      (4000, 18000), steps(4000, 18000, 2000))
chart(CXR, 1266, 455, 680, "白银LBMA库存量",
      [("LBMA:库存量:白银:当月值", lbma_ag, RED, 'l')],
      ["2016-07-31", "2019-03-31", "2021-11-30", "2024-07-31"],
      ["2016 07 31", "2019 03 31", "2021 11 30", "2024 07 31"], 2026.27, 0.63,
      (700000, 1200000), steps(700000, 1200000, 100000))
chart(CXL, 1459, 143, 369, "上期所白银库存",
      [("库存期货:白银", shfe_ag, RED, 'l')],
      ["2012-07-02", "2016-03-08", "2019-11-11", "2023-07-18"],
      ["2012 07 02", "2016 03 08", "2019 11 11", "2023 07 18"], 2026.21, 0.72,
      (0, 3500000), steps(0, 3500000, 500000))
chart(CXR, 1459, 455, 680, "上海金交所白银库存",
      [("上海金交所白银库存", sge_ag, RED, 'l')],
      ["2016-01-08", "2018-09-28", "2021-06-18", "2024-03-15"],
      ["2016 01 08", "2018 09 28", "2021 06 18", "2024 03 15"], 2026.02, 0.66,
      (0, 6000000), steps(0, 6000000, 1000000))

bg.text(435, 1294, "千金衡盎司", fontsize=6.2, color='#666666', ha='left', va='center')
bg.text(134, 1488, "公斤", fontsize=6.2, color='#666666', ha='left', va='center')
bg.text(447, 1488, "千克", fontsize=6.2, color='#666666', ha='left', va='center')

title_legend(CXL, 1653, "黄金ETF：持有量", [("SPDR:黄金ETF:持有量(吨)", RED)])
title_legend(CXR, 1653, "白银ETF：持有量", [("SLV:白银ETF:持仓量(吨)", RED)])

# 去掉与正文文字重叠的水印
fig.canvas.draw()
renderer = fig.canvas.get_renderer()
wm_set = set(t for g in wm_groups for t in g)
others = [t for t in fig.findobj(Text)
          if t not in wm_set and t.get_visible() and t.get_text().strip()]
other_boxes = [t.get_window_extent(renderer) for t in others]
for g in wm_groups:
    if any(t.get_window_extent(renderer).overlaps(b) for t in g for b in other_boxes):
        for t in g:
            t.remove()

fig.savefig("out.png", dpi=100, facecolor=fig.get_facecolor())
